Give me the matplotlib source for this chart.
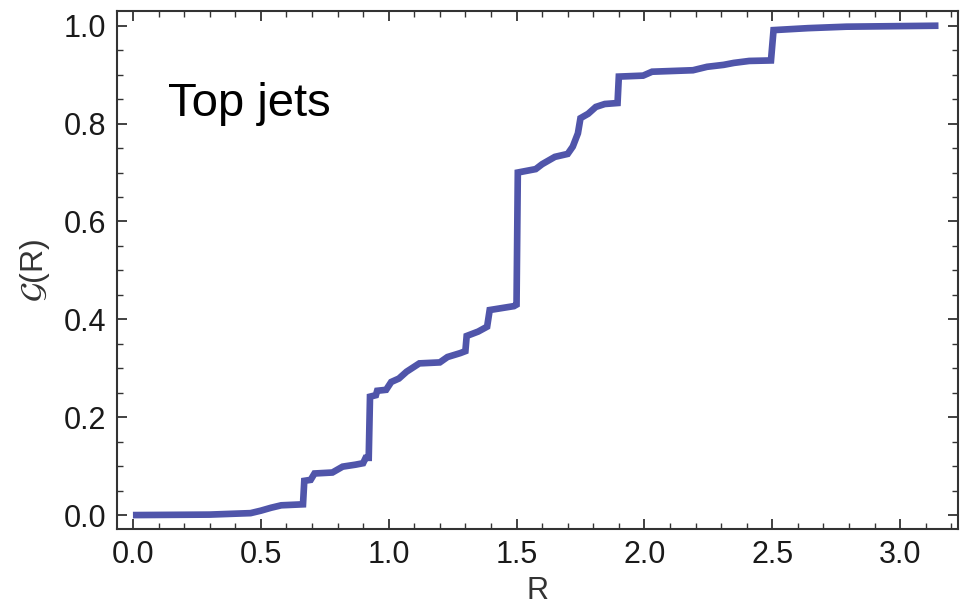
import numpy as np
import matplotlib
matplotlib.use("Agg")
import matplotlib.pyplot as plt
from matplotlib.ticker import MultipleLocator

plt.rcParams['font.family'] = ['Liberation Sans', 'DejaVu Sans']

# --------------------
# Data
# --------------------
R_vals = [0.0, 0.30, 0.46, 0.50, 0.54, 0.58, 0.665, 0.67, 0.695, 0.71, 0.78,
          0.82, 0.87, 0.90, 0.91, 0.922, 0.927, 0.95, 0.955, 0.99, 1.01, 1.04,
          1.07, 1.12, 1.20, 1.23, 1.28, 1.30, 1.305, 1.35, 1.385, 1.395, 1.49,
          1.50, 1.505, 1.575, 1.60, 1.65, 1.70, 1.72, 1.74, 1.75, 1.78, 1.81,
          1.845, 1.895, 1.90, 1.995, 2.03, 2.19, 2.245, 2.31, 2.35, 2.41,
          2.495, 2.505, 2.64, 2.79, 3.15]
G_vals = [0.0, 0.001, 0.004, 0.009, 0.015, 0.020, 0.022, 0.070, 0.072, 0.085, 0.087,
          0.099, 0.103, 0.106, 0.117, 0.117, 0.242, 0.245, 0.254, 0.256, 0.272, 0.279,
          0.293, 0.310, 0.312, 0.323, 0.331, 0.335, 0.366, 0.375, 0.385, 0.419, 0.427,
          0.430, 0.700, 0.707, 0.717, 0.732, 0.738, 0.753, 0.780, 0.811, 0.820, 0.834,
          0.840, 0.842, 0.896, 0.898, 0.906, 0.909, 0.916, 0.920, 0.924, 0.928,
          0.929, 0.991, 0.995, 0.998, 1.0]

label_text = "Top jets"

# --------------------
# Plot
# --------------------
fig = plt.figure(figsize=(9.65, 6.09), dpi=100)
ax = fig.add_axes([0.1216, 0.1309, 0.8708, 0.851])

ax.plot(R_vals, G_vals, color='#5055aa', lw=4.8, solid_joinstyle='miter',
        solid_capstyle='butt')

ax.set_xlim(-0.061, 3.225)
ax.set_ylim(-0.029, 1.030)

ax.xaxis.set_major_locator(MultipleLocator(0.5))
ax.xaxis.set_minor_locator(MultipleLocator(0.1))
ax.yaxis.set_major_locator(MultipleLocator(0.2))
ax.yaxis.set_minor_locator(MultipleLocator(0.05))
ax.xaxis.set_major_formatter(lambda v, p: f"{v:.1f}")
ax.yaxis.set_major_formatter(lambda v, p: f"{v:.1f}")

for s in ax.spines.values():
    s.set_color('#333333')
    s.set_linewidth(1.5)

ax.tick_params(which='both', direction='in', top=True, right=True,
               color='#333333', labelsize=22, labelcolor='#1a1a1a')
ax.tick_params(which='major', length=7, width=1.3, pad=8)
ax.tick_params(which='minor', length=4, width=1.0)

ax.set_xlabel('R', fontsize=22, color='#333333', labelpad=4)
ax.set_ylabel(r'$\mathcal{G}$(R)', fontsize=23, color='#333333', labelpad=8)

ax.text(0.06, 0.82, label_text, fontsize=34, color='black',
        transform=ax.transAxes, ha='left', va='center')

fig.savefig('out.png', dpi=100)
